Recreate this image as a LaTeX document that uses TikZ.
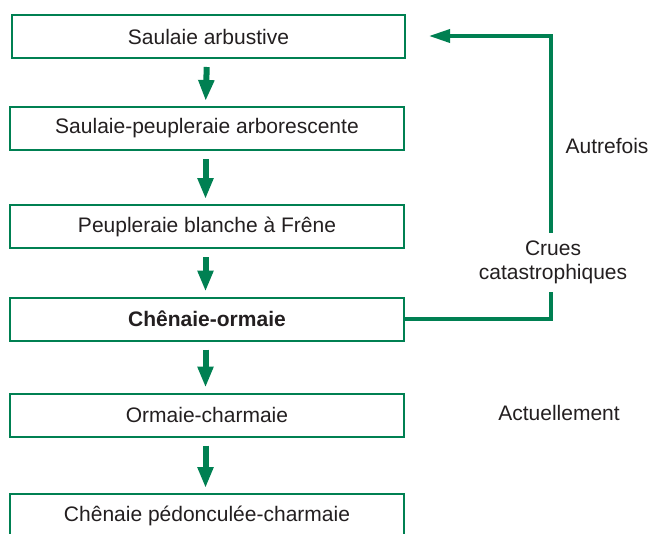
\documentclass[tikz,border=0pt]{standalone}
\usepackage{fontspec}
\setmainfont{Liberation Sans}
\usetikzlibrary{arrows.meta}
\definecolor{fgreen}{RGB}{0,128,82}
\definecolor{txt}{RGB}{35,31,32}
\begin{document}
\begin{tikzpicture}[x=1pt,y=-1pt,
  every node/.style={font=\fontsize{21}{24}\selectfont, text=txt},
  stagebox/.style={draw=fgreen, line width=2pt, minimum width=394pt, minimum height=43pt, inner sep=0pt, fill=white},
  flowarrow/.style={draw=fgreen, line width=6pt, -{Triangle[width=15pt,length=21pt]}, shorten <=8pt, shorten >=5pt},
  backline/.style={draw=fgreen, line width=3.5pt, -{Triangle[width=13pt,length=21pt]}},
  sidelabel/.style={align=center, inner sep=0pt}
]
\useasboundingbox (0,0) rectangle (652,533);

\node[stagebox, minimum width=393pt] (b1) at (208.5,36.5) {Saulaie arbustive};
\node[stagebox] (b2) at (207,128.5) {Saulaie-peupleraie arborescente};
\node[stagebox] (b3) at (207,226.5) {Peupleraie blanche à Frêne};
\node[stagebox] (b4) at (207,319) {\bfseries Chênaie-ormaie};
\node[stagebox] (b5) at (207,415) {Ormaie-charmaie};
\node[stagebox] (b6) at (207,515.5) {Chênaie pédonculée-charmaie};

\foreach \a/\b in {b1/b2,b2/b3,b3/b4,b4/b5,b5/b6}{
  \draw[flowarrow] ([xshift=-1.5pt]\a.south) -- ([xshift=-1.5pt]\b.north);
}

\coordinate (fbtop) at (551,36);
\coordinate (fbend) at (429,36);
\draw[backline] (b4.east) -| (fbtop) -- (fbend);

\node[sidelabel, fill=white, minimum height=59pt, text width=170pt] (crues) at (553,262) {Crues\\catastrophiques};
\node[sidelabel] (autre) at (607,146) {Autrefois};
\node[sidelabel] (actu) at (559,413) {Actuellement};
\end{tikzpicture}
\end{document}
